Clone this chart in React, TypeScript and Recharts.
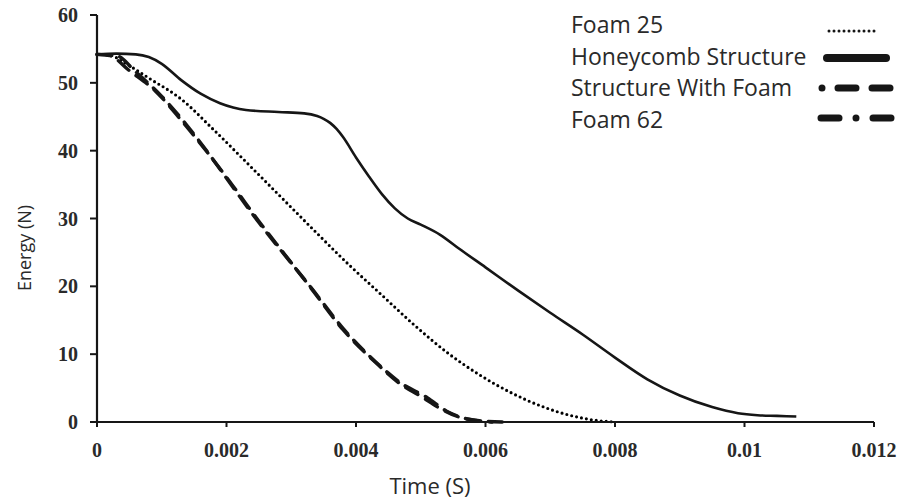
import React from "react";
import { LineChart, Line, XAxis, YAxis, Label } from "recharts";

// ---- data (time in s, energy in N) ----
const foam25Time = [0, 0.0002, 0.0004, 0.0008, 0.0013, 0.0018, 0.0024, 0.0029, 0.0034, 0.0039, 0.0044, 0.0049, 0.0054, 0.0059, 0.0064, 0.0069, 0.0073, 0.0077, 0.008];
const foam25Energy = [54.2, 54.1, 53.1, 50.7, 47.6, 43.1, 37.4, 32.6, 27.8, 23.1, 18.7, 14.3, 10.3, 7.0, 4.3, 2.2, 1.0, 0.25, 0];

const honeycombTime = [0, 0.0003, 0.0006, 0.0008, 0.001, 0.0013, 0.0016, 0.0019, 0.0023, 0.0028, 0.0032, 0.0034, 0.0035, 0.0036, 0.0037, 0.0038, 0.004, 0.0042, 0.0044, 0.0046, 0.0048, 0.005, 0.0053, 0.0056, 0.006, 0.0065, 0.007, 0.0075, 0.008, 0.0085, 0.009, 0.0095, 0.0099, 0.0102, 0.0105, 0.0108];
const honeycombEnergy = [54.2, 54.3, 54.2, 53.8, 52.8, 50.4, 48.4, 47.0, 46.0, 45.7, 45.5, 45.1, 44.7, 44.1, 43.2, 42.0, 39.0, 36.2, 33.6, 31.5, 30.0, 29.1, 27.6, 25.5, 22.8, 19.4, 16.1, 12.9, 9.5, 6.3, 3.9, 2.2, 1.3, 1.0, 0.9, 0.8];

const structureFoamTime = [0, 0.0002, 0.0005, 0.0009, 0.0013, 0.0017, 0.0021, 0.0025, 0.0029, 0.0033, 0.0038, 0.0043, 0.0047, 0.005, 0.0053, 0.0056, 0.0059, 0.0061];
const structureFoamEnergy = [54.2, 54.0, 51.8, 48.8, 44.5, 39.8, 34.8, 29.6, 24.7, 19.8, 13.6, 8.8, 5.5, 3.8, 2.0, 0.7, 0.2, 0];

const foam62Time = [0, 0.0003, 0.0006, 0.001, 0.0014, 0.0018, 0.0021, 0.0025, 0.0029, 0.0033, 0.0038, 0.0043, 0.0047, 0.0051, 0.0054, 0.0057, 0.006, 0.0063];
const foam62Energy = [54.2, 54.0, 51.6, 48.0, 43.6, 38.6, 34.6, 29.4, 24.6, 19.9, 13.8, 8.9, 5.7, 3.6, 1.6, 0.5, 0.1, 0];

const xTicks = [0, 0.002, 0.004, 0.006, 0.008, 0.01, 0.012];
const yTicks = [0, 10, 20, 30, 40, 50, 60];
const seriesNames = ["Foam 25", "Honeycomb Structure", "Structure With Foam", "Foam 62"];

const toPoints = (ts: number[], es: number[]) => ts.map((t, i) => ({ t, E: es[i] }));
const foam25Data = toPoints(foam25Time, foam25Energy);
const honeycombData = toPoints(honeycombTime, honeycombEnergy);
const structureFoamData = toPoints(structureFoamTime, structureFoamEnergy);
const foam62Data = toPoints(foam62Time, foam62Energy);

const INK = "#161616";
const tickStyle = { fontFamily: "'Liberation Serif', serif", fontWeight: 700, fontSize: 20, fill: "#2a2a2a" };
const labelFont = "'Open Sans', sans-serif";

function LegendOverlay() {
  const rows = [
    { name: seriesNames[0], y: 33, line: <line x1={829} x2={875} y1={31} y2={31} stroke={INK} strokeWidth={3} strokeDasharray="0 5" strokeLinecap="round" /> },
    { name: seriesNames[1], y: 65, line: <line x1={827} x2={886} y1={58} y2={58} stroke={INK} strokeWidth={8} strokeLinecap="round" /> },
    { name: seriesNames[2], y: 96, line: <line x1={822} x2={900} y1={88} y2={88} stroke={INK} strokeWidth={7} strokeDasharray="0 16 18 16 18 16" strokeLinecap="round" /> },
    { name: seriesNames[3], y: 128, line: <line x1={821} x2={900} y1={118} y2={118} stroke={INK} strokeWidth={7} strokeDasharray="18 17 0 17" strokeLinecap="round" /> },
  ];
  return (
    <svg width={902} height={150} style={{ position: "absolute", left: 0, top: 0, pointerEvents: "none" }}>
      {rows.map((r) => (
        <g key={r.name}>
          <text x={571} y={r.y} fontFamily={labelFont} fontSize={23} fill="#2a2a2a">{r.name}</text>
          {r.line}
        </g>
      ))}
    </svg>
  );
}

export default function App() {
  return (
    <div style={{ position: "absolute", left: 0, top: 0, width: 902, height: 500, background: "#fff" }}>
      <LineChart width={902} height={500} margin={{ top: 15, right: 28, bottom: 0, left: 0 }}>
        <XAxis
          type="number"
          dataKey="t"
          domain={[0, 0.012]}
          ticks={xTicks}
          allowDuplicatedCategory={false}
          height={78}
          tick={tickStyle}
          tickSize={5}
          tickMargin={16}
          axisLine={{ stroke: INK, strokeWidth: 2.2 }}
          tickLine={{ stroke: INK, strokeWidth: 2 }}
        >
          <Label
            content={() => (
              <text x={430} y={494} textAnchor="middle" fontFamily={labelFont} fontSize={22} fill="#2a2a2a">Time (S)</text>
            )}
          />
        </XAxis>
        <YAxis
          type="number"
          domain={[0, 60]}
          ticks={yTicks}
          width={97}
          tick={tickStyle}
          tickSize={7}
          tickMargin={12}
          axisLine={{ stroke: INK, strokeWidth: 2.2 }}
          tickLine={{ stroke: INK, strokeWidth: 2 }}
        >
          <Label
            content={() => (
              <text x={31} y={248} transform="rotate(-90, 31, 248)" textAnchor="middle" fontFamily={labelFont} fontSize={18} fill="#2a2a2a">Energy (N)</text>
            )}
          />
        </YAxis>
        <Line data={foam25Data} dataKey="E" name={seriesNames[0]} type="monotone" stroke="#000" strokeWidth={3.1} strokeDasharray="0 5" strokeLinecap="round" dot={false} isAnimationActive={false} />
        <Line data={honeycombData} dataKey="E" name={seriesNames[1]} type="monotone" stroke={INK} strokeWidth={2.6} dot={false} isAnimationActive={false} />
        <Line data={structureFoamData} dataKey="E" name={seriesNames[2]} type="monotone" stroke={INK} strokeWidth={3.4} strokeDasharray="14 9" strokeLinecap="round" dot={false} isAnimationActive={false} />
        <Line data={foam62Data} dataKey="E" name={seriesNames[3]} type="monotone" stroke={INK} strokeWidth={3.4} strokeDasharray="14 9" strokeLinecap="round" dot={false} isAnimationActive={false} />
      </LineChart>
      <LegendOverlay />
    </div>
  );
}
